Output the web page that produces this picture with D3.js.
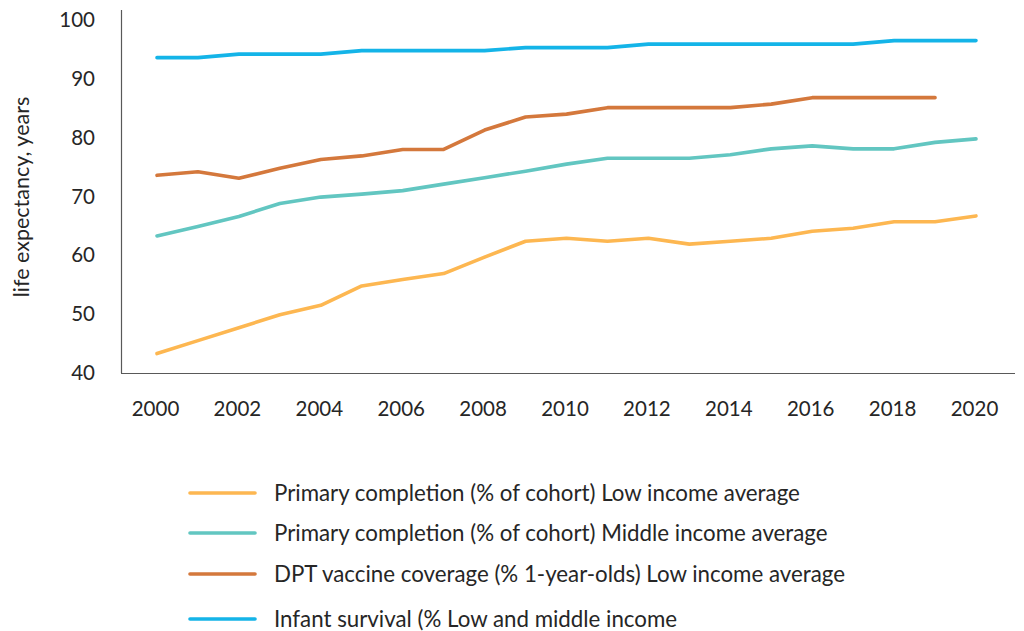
<!DOCTYPE html>
<html>
<head>
<meta charset="utf-8">
<script src="https://cdn.jsdelivr.net/npm/d3@7/dist/d3.min.js"></script>
<style>
  html, body { margin: 0; padding: 0; background: #fff; }
  svg { display: block; font-family: Lato, "Open Sans", sans-serif; }
</style>
</head>
<body>
<svg id="chart" width="1024" height="631"></svg>
<script>
// Years on the x axis
const years = d3.range(2000, 2021);

// Series values (null = no data)
const primaryLow = [43.3, 45.5, 47.7, 49.9, 51.5, 54.8, 55.9, 56.9, 59.7, 62.4, 62.9,
                    62.4, 62.9, 61.9, 62.4, 62.9, 64.1, 64.6, 65.7, 65.7, 66.7];
const primaryMiddle = [63.3, 64.9, 66.6, 68.8, 69.9, 70.4, 71.0, 72.1, 73.2, 74.3, 75.5,
                       76.5, 76.5, 76.5, 77.1, 78.1, 78.6, 78.1, 78.1, 79.2, 79.8];
const dptLow = [73.6, 74.2, 73.1, 74.8, 76.3, 76.9, 78.0, 78.0, 81.3, 83.5, 84.0,
                85.1, 85.1, 85.1, 85.1, 85.7, 86.8, 86.8, 86.8, 86.8, null];
const infantSurvival = [93.6, 93.6, 94.2, 94.2, 94.2, 94.8, 94.8, 94.8, 94.8, 95.3, 95.3,
                        95.3, 95.9, 95.9, 95.9, 95.9, 95.9, 95.9, 96.5, 96.5, 96.5];

const seriesNames = [
  "Primary completion (% of cohort) Low income average",
  "Primary completion (% of cohort) Middle income average",
  "DPT vaccine coverage (% 1-year-olds) Low income average",
  "Infant survival (% Low and middle income"
];
const seriesColors = ["#FDB751", "#62C6C1", "#D4783C", "#14B4E8"];
const seriesValues = [primaryLow, primaryMiddle, dptLow, infantSurvival];

const yTicks = [40, 50, 60, 70, 80, 90, 100];
const xTicks = d3.range(2000, 2021, 2);
const yTitle = "life expectancy, years";

const svg = d3.select("#chart");

const x = d3.scaleLinear().domain([2000, 2020]).range([157, 976]);
const y = d3.scaleLinear().domain([40, 100]).range([373, 20]);

// Axis lines
const axisColor = "#595959";
svg.append("line")
  .attr("x1", 121.5).attr("x2", 121.5)
  .attr("y1", 10).attr("y2", y(40))
  .attr("stroke", axisColor).attr("stroke-width", 1.2);
svg.append("line")
  .attr("x1", 121).attr("x2", 1015)
  .attr("y1", y(40) + 0.5).attr("y2", y(40) + 0.5)
  .attr("stroke", axisColor).attr("stroke-width", 1.2);

// Y tick labels
const yAxis = d3.axisLeft(y).tickValues(yTicks).tickSize(0).tickPadding(0);
const gy = svg.append("g").attr("transform", "translate(95,0)").call(yAxis);
gy.select(".domain").remove();
gy.selectAll("text")
  .attr("font-size", 20.5).attr("fill", "#262626")
  .attr("font-family", "Lato, 'Open Sans', sans-serif");

// X tick labels
const xAxis = d3.axisBottom(x).tickValues(xTicks).tickFormat(d3.format("d")).tickSize(0).tickPadding(0);
const gx = svg.append("g").attr("transform", "translate(-2,401)").call(xAxis);
gx.select(".domain").remove();
gx.selectAll("text")
  .attr("font-size", 20.5).attr("fill", "#262626")
  .attr("font-family", "Lato, 'Open Sans', sans-serif");

// Y axis title
svg.append("text")
  .attr("transform", "translate(29,197) rotate(-90)")
  .attr("text-anchor", "middle")
  .attr("font-size", 21.5)
  .attr("fill", "#262626")
  .text(yTitle);

// Series lines
const line = d3.line()
  .defined(d => d.v != null)
  .x(d => x(d.year))
  .y(d => y(d.v));

seriesValues.forEach((vals, i) => {
  const data = years.map((yr, j) => ({ year: yr, v: vals[j] }));
  svg.append("path")
    .datum(data)
    .attr("fill", "none")
    .attr("stroke", seriesColors[i])
    .attr("stroke-width", 3.6)
    .attr("stroke-linecap", "round")
    .attr("stroke-linejoin", "round")
    .attr("d", line);
});

// Legend
const legendRows = [493, 533, 574, 619];
const legend = svg.append("g");
seriesNames.forEach((name, i) => {
  legend.append("line")
    .attr("x1", 190).attr("x2", 255)
    .attr("y1", legendRows[i]).attr("y2", legendRows[i])
    .attr("stroke", seriesColors[i])
    .attr("stroke-width", 3.6)
    .attr("stroke-linecap", "round");
  legend.append("text")
    .attr("x", 274).attr("y", legendRows[i])
    .attr("dy", "0.35em")
    .attr("font-size", 22.3)
    .attr("fill", "#262626")
    .text(name);
});
</script>
</body>
</html>
